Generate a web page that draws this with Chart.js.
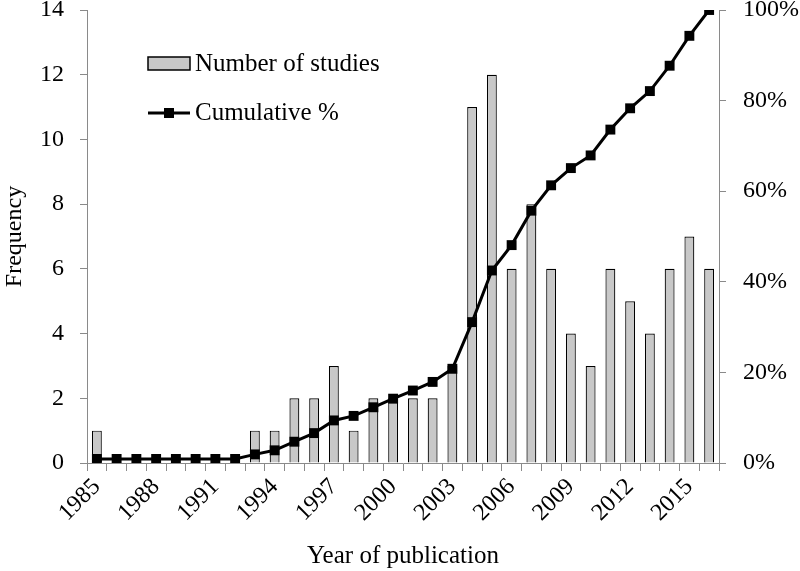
<!DOCTYPE html>
<html>
<head>
<meta charset="utf-8">
<script src="https://cdn.jsdelivr.net/npm/chart.js@4/dist/chart.umd.min.js"></script>
<style>
  html, body { margin: 0; padding: 0; background: #fff; }
  #wrap { width: 800px; height: 571px; }
</style>
</head>
<body>
<div id="wrap"><canvas id="grafico"></canvas></div>
<script>
// años y valores
const years = [];
for (let y = 1985; y <= 2016; y++) years.push(String(y));
const studies = [1, 0, 0, 0, 0, 0, 0, 0, 1, 1, 2, 2, 3, 1, 2, 2, 2, 2, 3, 11, 12, 6, 8, 6, 4, 3, 6, 5, 4, 6, 7, 6];
const cumulative = [0.9, 0.9, 0.9, 0.9, 0.9, 0.9, 0.9, 0.9, 1.9, 2.8, 4.7, 6.6, 9.4, 10.4, 12.3, 14.2, 16.0, 17.9, 20.8, 31.1, 42.5, 48.1, 55.7, 61.3, 65.1, 67.9, 73.6, 78.3, 82.1, 87.7, 94.3, 100];
const freqTicks = [0, 2, 4, 6, 8, 10, 12, 14];
const pctTicks = [0, 20, 40, 60, 80, 100];

const fuente = "'Liberation Serif', 'Times New Roman', serif";
const gris = "#8a8a8a";

// leyenda dibujada dentro del área del gráfico
const leyenda = {
  id: "leyenda",
  afterDraw(chart) {
    const ctx = chart.ctx;
    const a = chart.chartArea;
    const x0 = a.left + 61, x1 = a.left + 103;
    ctx.save();
    ctx.fillStyle = "#c8c8c8";
    ctx.strokeStyle = "#000";
    ctx.lineWidth = 1.5;
    ctx.fillRect(x0, a.top + 47, x1 - x0, 13);
    ctx.strokeRect(x0, a.top + 47, x1 - x0, 13);
    ctx.lineWidth = 3;
    ctx.beginPath();
    ctx.moveTo(x0, a.top + 103);
    ctx.lineTo(x1, a.top + 103);
    ctx.stroke();
    ctx.fillStyle = "#000";
    ctx.fillRect((x0 + x1) / 2 - 5, a.top + 98, 10, 10);
    ctx.font = "25px " + fuente;
    ctx.textBaseline = "middle";
    ctx.fillText("Number of studies", x1 + 5, a.top + 54);
    ctx.fillText("Cumulative %", x1 + 5, a.top + 103);
    ctx.restore();
  }
};

// quito el relleno extra que Chart.js deja para las etiquetas extremas
const sinRelleno = (s) => { s.paddingTop = 0; s.paddingBottom = 0; };

new Chart(document.getElementById("grafico").getContext("2d"), {
  data: {
    labels: years,
    datasets: [
      {
        type: "line",
        label: "Cumulative %",
        data: cumulative,
        yAxisID: "yPct",
        borderColor: "#000",
        borderWidth: 3,
        backgroundColor: "#000",
        pointStyle: "rect",
        pointRadius: 7,
        pointBorderWidth: 0,
        tension: 0,
        order: 0
      },
      {
        type: "bar",
        label: "Number of studies",
        data: studies,
        yAxisID: "yFreq",
        backgroundColor: "#c8c8c8",
        borderColor: "#000",
        borderWidth: 1.2,
        barPercentage: 0.5,
        categoryPercentage: 1,
        order: 1
      }
    ]
  },
  options: {
    responsive: true,
    maintainAspectRatio: false,
    animation: false,
    layout: { padding: { top: 10, left: 0, right: 0, bottom: 0 } },
    plugins: {
      legend: { display: false },
      tooltip: { enabled: false }
    },
    scales: {
      x: {
        offset: true,
        grid: { offset: true, drawOnChartArea: false, tickLength: 8, color: gris },
        border: { color: gris },
        ticks: {
          autoSkip: false,
          maxRotation: 45,
          minRotation: 45,
          padding: 2,
          color: "#000",
          font: { family: fuente, size: 24 },
          callback: (v, i) => (i % 3 === 0 ? years[i] : "")
        },
        title: {
          display: true,
          text: "Year of publication",
          color: "#000",
          font: { family: fuente, size: 25 },
          padding: { top: 8, bottom: 0 }
        },
        afterFit: (s) => { s.height = 108; s.paddingLeft = 0; s.paddingRight = 0; }
      },
      yFreq: {
        position: "left",
        min: 0,
        max: 14,
        afterBuildTicks: (s) => { s.ticks = freqTicks.map((v) => ({ value: v })); },
        grid: { drawOnChartArea: false, tickLength: 7, color: gris },
        border: { color: gris },
        ticks: { padding: 16, color: "#000", font: { family: fuente, size: 24 } },
        title: {
          display: true,
          text: "Frequency",
          color: "#000",
          font: { family: fuente, size: 24 },
          padding: { top: 0, bottom: 0 }
        },
        afterFit: (s) => { s.width = 87; sinRelleno(s); }
      },
      yPct: {
        position: "right",
        min: 0,
        max: 100,
        afterBuildTicks: (s) => { s.ticks = pctTicks.map((v) => ({ value: v })); },
        grid: { drawOnChartArea: false, tickLength: 7, color: gris },
        border: { color: gris },
        ticks: {
          padding: 17,
          color: "#000",
          font: { family: fuente, size: 24 },
          callback: (v) => v + "%"
        },
        afterFit: (s) => { s.width = 81; sinRelleno(s); }
      }
    }
  },
  plugins: [leyenda]
});
</script>
</body>
</html>
